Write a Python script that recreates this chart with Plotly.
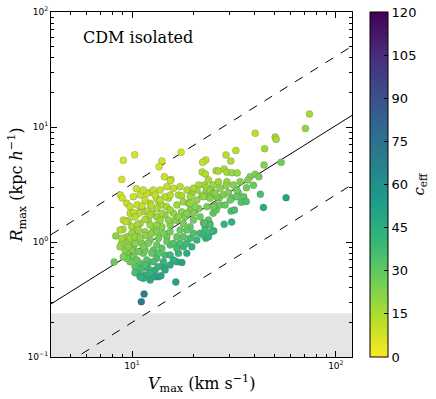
import numpy as np
import plotly.graph_objects as go

# halo sample: Vmax [km/s], Rmax [kpc/h], c_eff
vmax = [74.2, 70.9, 40.2, 50.35, 50.9, 44.7, 32.3, 28.9, 30.5, 23.0,
        22.2, 44.4, 53.9, 9.06, 10.29, 14.0, 13.57, 17.4, 8.90, 14.4,
        15.5, 10.5, 8.76, 8.96, 12.26, 22.06, 22.9, 25.85, 26.5, 28.3,
        29.2, 30.9, 32.8, 37.96, 40.2, 41.9, 36.98, 29.2, 28.9, 36.4,
        39.4, 42.6, 33.2, 35.3, 30.9, 24.5, 23.2, 22.57, 26.8, 28.1,
        57.0, 44.1, 34.3, 36.3, 30.6, 31.8, 28.3, 30.8, 25.18, 23.0,
        24.0, 22.4, 25.0, 25.9, 25.7, 23.3, 27.0, 28.6, 15.4, 21.2,
        23.3, 19.7, 20.8, 22.0, 23.7, 16.9, 17.5, 15.08, 14.5, 13.5,
        14.0, 10.15, 10.95, 11.8, 12.7, 13.2, 14.8, 15.95, 17.2, 15.4,
        17.85, 16.6, 14.8, 13.2, 11.6, 18.6, 20.0, 19.3, 20.8, 22.4,
        24.15, 25.1, 21.2, 19.3, 17.5, 15.95, 14.5, 13.2, 12.0, 10.95,
        9.97, 9.06, 9.78, 10.95, 12.26, 13.73, 10.6, 11.2, 12.4, 11.9,
        10.8, 10.2, 10.34, 9.59, 9.33, 9.03, 8.32, 8.16, 9.42, 10.55,
        11.58, 12.72, 14.0, 15.37, 16.6, 14.8, 13.5, 12.26, 11.16, 10.15,
        9.42, 10.15, 11.36, 12.72, 14.0, 15.37, 14.52, 13.2, 12.0, 10.95,
        10.34, 9.78, 8.90, 9.59, 10.34, 12.0, 9.24, 9.97, 10.74, 11.58,
        12.5, 9.42, 11.8, 12.72, 11.16, 12.0, 12.97, 10.74, 11.58, 12.5,
        11.36, 12.26, 12.97, 10.34, 10.95, 13.46, 13.85, 14.25, 15.37, 16.58,
        17.54, 18.56, 19.64, 19.27, 20.0, 21.57, 22.83, 23.7, 21.57, 20.0,
        19.27, 17.85, 17.2, 16.58, 15.95, 17.85, 16.88, 22.83, 24.15, 22.83,
        24.62, 22.39, 23.7, 16.39, 11.45, 11.1, 11.05, 24.15, 26.0, 30.3,
        32.6, 25.1, 10.6, 11.58, 12.5, 10.74, 12.26, 9.97, 11.58, 12.5,
        8.90, 18.9, 18.2, 16.3, 14.0, 20.38,
        13.46, 14.25, 15.37, 15.95, 17.85, 18.56, 20.78, 13.22, 14.25, 15.37,
        18.56, 15.37, 18.56, 20.0, 16.88, 15.08, 9.42, 9.78, 11.58, 12.97,
        13.73, 11.36, 8.73, 9.06, 9.78, 8.73, 11.58, 13.46, 14.52, 12.26,
        23.70, 25.07, 26.53, 27.04, 31.43, 33.90, 32.66, 29.70, 25.56, 19.27,
        12.26, 13.22, 10.34, 10.95, 11.36, 13.22, 10.55, 9.59, 14.81, 17.20,
        16.58, 13.73]

rmax = [12.97, 9.70, 8.81, 8.18, 7.82, 6.48, 6.25, 5.71, 5.06, 5.16,
        4.93, 4.67, 4.93, 5.13, 5.74, 5.06, 4.52, 6.03, 3.50, 3.70,
        3.50, 2.91, 2.56, 2.41, 2.69, 4.06, 3.90, 4.17, 4.14, 4.31,
        4.04, 4.00, 3.98, 3.70, 3.88, 3.70, 3.46, 3.34, 3.09, 2.97,
        3.11, 2.60, 2.68, 2.48, 2.42, 2.89, 2.80, 3.13, 2.42, 2.58,
        2.43, 2.00, 2.22, 2.25, 1.86, 1.90, 1.43, 1.49, 1.25, 1.08,
        1.45, 1.47, 1.78, 1.90, 2.10, 2.03, 2.10, 2.10, 3.41, 3.13,
        2.97, 2.65, 2.83, 2.56, 2.48, 2.56, 2.52, 2.40, 2.48, 2.25,
        2.10, 2.48, 2.56, 2.65, 2.83, 2.40, 3.03, 2.93, 3.03, 2.56,
        2.24, 2.10, 2.03, 1.96, 1.83, 2.83, 2.93, 2.48, 2.32, 2.48,
        2.40, 2.03, 1.96, 1.90, 1.83, 1.78, 1.72, 1.66, 1.55, 1.45,
        1.36, 1.55, 1.78, 2.03, 2.17, 2.32, 2.11, 2.06, 2.08, 1.86,
        1.78, 1.80, 1.65, 1.53, 1.50, 1.29, 1.13, 0.67, 1.11, 1.19,
        1.23, 1.32, 1.36, 1.41, 1.55, 1.11, 1.08, 1.04, 0.974, 0.91,
        0.797, 0.745, 0.797, 0.852, 0.882, 0.942, 0.771, 0.722, 0.674, 0.653,
        0.61, 0.674, 0.974, 1.01, 0.974, 0.974, 0.852, 0.852, 0.823, 0.852,
        0.797, 0.722, 0.697, 0.674, 0.59, 0.59, 0.571, 0.534, 0.516, 0.516,
        0.483, 0.467, 0.499, 0.541, 0.499, 0.499, 0.51, 0.61, 0.631, 0.674,
        0.663, 0.797, 0.91, 1.08, 1.19, 1.19, 1.36, 1.55, 1.66, 1.55,
        1.36, 1.45, 1.27, 1.11, 0.974, 0.91, 0.797, 1.45, 1.41, 1.27,
        1.23, 1.15, 1.11, 0.449, 0.353, 0.303, 0.493, 2.83, 2.48, 2.32,
        2.48, 2.65, 1.41, 1.57, 1.78, 1.27, 1.41, 1.19, 1.14, 1.19,
        1.08, 2.17, 1.66, 1.55, 1.78, 2.03,
        0.797, 0.674, 0.771, 0.697, 1.11, 0.974, 1.04, 1.23, 1.19, 1.23,
        1.27, 1.90, 1.78, 1.78, 1.66, 1.55, 2.17, 2.03, 2.32, 2.56,
        2.83, 2.83, 0.91, 0.745, 1.08, 1.27, 0.631, 0.61, 0.571, 0.541,
        3.46, 3.13, 3.34, 2.93, 3.13, 3.34, 2.83, 2.69, 2.65, 2.17,
        1.72, 1.41, 1.11, 1.08, 0.91, 0.942, 0.697, 0.91, 1.01, 0.974,
        0.882, 1.55]

ceff = [16, 19, 12, 16, 16, 17, 13, 13, 15, 11,
        11, 23, 27, 7, 7, 8, 8, 8, 7, 9.5,
        10.5, 9, 8.5, 9, 11, 13, 14, 15, 15.5, 16,
        17, 18.5, 19.5, 24, 24, 26, 24, 20, 21.5, 27,
        28, 35, 27, 31, 28, 19.5, 20, 17, 25, 24,
        50, 46, 33, 34, 35, 36, 41, 43, 41, 43,
        34, 32, 30, 29, 26, 25, 28, 29.5, 11, 16,
        18, 17, 17, 19, 21.5, 15, 16, 14, 13.5, 13.5,
        15, 9.5, 10, 10.5, 10.5, 12, 11, 12.5, 13, 13.5,
        18, 18, 16, 15, 14, 15, 16, 18, 20, 20,
        23, 27, 24, 22.5, 21, 20, 18.5, 17.5, 17, 16,
        16, 12.5, 12, 12, 12.5, 13, 11, 11.5, 13, 14,
        13, 12, 13.5, 13.5, 13, 15, 22, 28, 18, 19,
        20, 20.5, 22, 23.5, 23, 27, 26, 24, 24, 23,
        24, 27, 28, 30, 31, 32, 36, 35, 34, 32,
        32, 28, 19, 20, 22, 25, 22, 24, 26, 27,
        30, 26, 33, 36, 36, 39, 43, 38, 42, 45,
        44, 48, 48, 36, 41, 50, 50, 44, 46, 47,
        50, 45, 43, 36, 34, 37, 35, 32, 27, 27,
        29, 26, 28, 30, 33, 39, 41, 33, 36, 37,
        40, 39, 43, 52, 66, 70, 42, 19.5, 23.5, 28.5,
        29, 21.5, 16, 16, 15.5, 18, 19, 18, 21, 22,
        17.5, 19, 24, 22.5, 17.5, 22.5,
        33, 40, 39, 44, 32, 38, 40, 23, 25, 26,
        30, 18, 23, 24, 22, 21, 10, 11, 11, 11.5,
        11, 9.5, 20, 24, 19, 15, 35, 42, 47, 42,
        16, 18.5, 18.5, 21, 23, 23.5, 26, 25, 22, 20,
        16, 20, 19.5, 21, 25, 28, 29.5, 21.5, 29, 35,
        37, 19]

# mean relation R = A (V/10)^slope and its scatter band
rel_norm = 0.8
rel_slope = 1.11
rel_factor = 4.0
resolution_limit = 0.24

x_range = [4.0, 120.0]
y_range = [0.1, 100.0]
x_major = [10, 100]
x_major_text = ["10<sup>1</sup>", "10<sup>2</sup>"]
y_major = [0.1, 1, 10, 100]
y_major_text = ["10<sup>\u22121</sup>", "10<sup>0</sup>", "10<sup>1</sup>", "10<sup>2</sup>"]
x_minor = [4, 5, 6, 7, 8, 9, 20, 30, 40, 50, 60, 70, 80, 90]
y_minor = [0.2, 0.3, 0.4, 0.5, 0.6, 0.7, 0.8, 0.9,
           2, 3, 4, 5, 6, 7, 8, 9, 20, 30, 40, 50, 60, 70, 80, 90]

v_line = np.logspace(np.log10(x_range[0]), np.log10(x_range[1]), 50)
r_line = rel_norm * (v_line / 10.0) ** rel_slope

fig = go.Figure()

fig.add_shape(
    type="rect", xref="x domain", yref="y",
    x0=0, x1=1, y0=y_range[0], y1=resolution_limit,
    fillcolor="#e5e5e5", line=dict(width=0), layer="below"
)

fig.add_trace(go.Scatter(
    x=v_line, y=r_line, mode="lines",
    line=dict(color="black", width=1), showlegend=False, hoverinfo="skip"
))
for fac in [rel_factor, 1.0 / rel_factor]:
    fig.add_trace(go.Scatter(
        x=v_line, y=r_line * fac, mode="lines",
        line=dict(color="black", width=1, dash="dash"),
        showlegend=False, hoverinfo="skip"
    ))

fig.add_trace(go.Scatter(
    x=vmax, y=rmax, mode="markers", showlegend=False,
    marker=dict(
        size=7,
        color=ceff,
        colorscale="Viridis",
        reversescale=True,
        cmin=0, cmax=120,
        line=dict(color="rgba(90,90,90,0.45)", width=0.6),
        colorbar=dict(
            x=1.06, xanchor="left", xpad=0, y=0.5, yanchor="middle",
            len=1.0, lenmode="fraction", ypad=0,
            thickness=18, outlinecolor="black", outlinewidth=1,
            tickvals=[0, 15, 30, 45, 60, 75, 90, 105, 120],
            ticks="inside", ticklen=4, tickcolor="black",
            tickfont=dict(family="DejaVu Sans", size=13, color="black"),
            title=dict(text="<i>c</i><sub>eff</sub>", side="right",
                       font=dict(family="DejaVu Serif", size=15, color="black"))
        )
    )
))

# invisible trace so the minor-tick overlay axes get drawn
fig.add_trace(go.Scatter(
    x=x_range, y=y_range, mode="markers", marker=dict(opacity=0),
    xaxis="x2", yaxis="y2", showlegend=False, hoverinfo="skip"
))

fig.add_annotation(
    text="CDM isolated", xref="paper", yref="paper",
    x=0.1, y=0.925, xanchor="left", yanchor="middle", showarrow=False,
    font=dict(family="DejaVu Serif", size=16, color="black")
)
fig.add_annotation(
    text="<i>V</i><sub>max</sub> (km s<sup>\u22121</sup>)", xref="paper", yref="paper",
    x=0.5, y=-0.078, xanchor="center", yanchor="middle", showarrow=False,
    font=dict(family="DejaVu Serif", size=16, color="black")
)
fig.add_annotation(
    text="<i>R</i><sub>max</sub> (kpc <i>h</i><sup>\u22121</sup>)", xref="paper", yref="paper",
    x=-0.113, y=0.5, xanchor="center", yanchor="middle", showarrow=False,
    textangle=-90, font=dict(family="DejaVu Serif", size=16, color="black")
)

axis_common = dict(
    type="log", showline=True, linecolor="black", linewidth=1, mirror="allticks",
    ticks="inside", tickcolor="black", automargin=False,
    showgrid=False, zeroline=False,
    tickfont=dict(family="DejaVu Sans", size=9, color="black"),
)
xr = [np.log10(x_range[0]), np.log10(x_range[1])]
yr = [np.log10(y_range[0]), np.log10(y_range[1])]

fig.update_layout(
    width=436, height=399,
    margin=dict(l=51, r=84, t=12, b=42, autoexpand=False),
    plot_bgcolor="white", paper_bgcolor="white",
    xaxis=dict(**axis_common, range=xr, tickmode="array", tickvals=x_major,
               ticktext=x_major_text, ticklen=6),
    yaxis=dict(**axis_common, range=yr, tickmode="array", tickvals=y_major,
               ticktext=y_major_text, ticklen=6),
    xaxis2=dict(**axis_common, range=xr, overlaying="x", tickmode="array",
                tickvals=x_minor, ticklen=3, showticklabels=False),
    yaxis2=dict(**axis_common, range=yr, overlaying="y", tickmode="array",
                tickvals=y_minor, ticklen=3, showticklabels=False),
)

# the page body has a default 8px margin; drop it so the figure sits at 0,0
fig.write_html("out.html", config={"displayModeBar": False},
               post_script="document.body.style.margin='0px';")
